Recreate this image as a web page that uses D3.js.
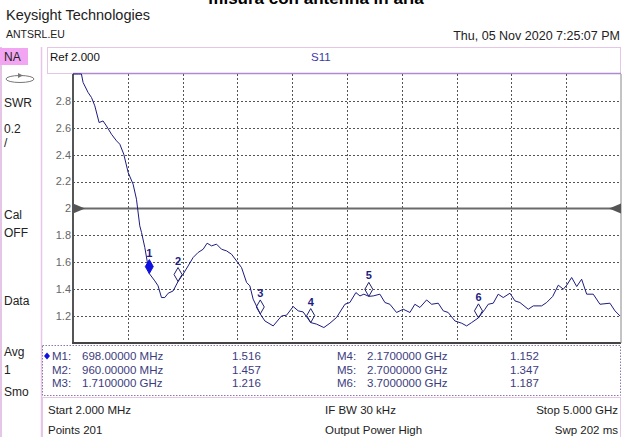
<!DOCTYPE html>
<html>
<head>
<meta charset="utf-8">
<script src="https://cdn.jsdelivr.net/npm/d3@7"></script>
<style>
  body { margin: 0; background: #fff; }
  svg { display: block; font-family: "Liberation Sans", Arial, sans-serif; }
</style>
</head>
<body>
<script>
const WIDTH = 622, HEIGHT = 437;

// trace (MHz, SWR)
const freqMHz = [2, 50, 79, 94, 140, 171, 201, 240, 276, 307, 353, 399, 429, 465, 505, 550, 581, 611, 627, 657,
  698, 748, 778, 809, 839, 870, 915, 960, 1006, 1052, 1098, 1143, 1189, 1225, 1266, 1311, 1357, 1402, 1448, 1494,
  1539, 1585, 1615, 1645, 1710, 1752, 1828, 1904, 1950, 2010, 2056, 2101, 2170, 2224, 2290, 2345, 2406, 2482, 2527,
  2582, 2619, 2655, 2700, 2740, 2801, 2847, 2892, 2953, 3014, 3075, 3120, 3166, 3227, 3273, 3333, 3379, 3424, 3485,
  3547, 3592, 3638, 3700, 3759, 3789, 3835, 3880, 3926, 3987, 4033, 4078, 4154, 4200, 4276, 4322, 4377, 4428, 4474,
  4505, 4550, 4596, 4641, 4687, 4747, 4808, 4899, 4945, 4991];
const swr = [3.3, 3.1, 3.0, 2.937, 2.862, 2.825, 2.763, 2.639, 2.651, 2.614, 2.552, 2.503, 2.478, 2.404, 2.268, 2.181, 2.069, 1.871, 1.822, 1.71,
  1.516, 1.462, 1.425, 1.338, 1.338, 1.37, 1.387, 1.457, 1.512, 1.573, 1.636, 1.673, 1.697, 1.742, 1.722, 1.735, 1.697, 1.685, 1.66, 1.61,
  1.561, 1.45, 1.425, 1.326, 1.216, 1.164, 1.127, 1.201, 1.207, 1.271, 1.239, 1.231, 1.152, 1.14, 1.115, 1.147, 1.19, 1.288, 1.301,
  1.375, 1.35, 1.363, 1.347, 1.35, 1.363, 1.301, 1.288, 1.227, 1.251, 1.227, 1.288, 1.264, 1.32, 1.288, 1.296, 1.239, 1.227, 1.164,
  1.147, 1.127, 1.152, 1.187, 1.251, 1.288, 1.296, 1.363, 1.338, 1.37, 1.313, 1.301, 1.251, 1.276, 1.276, 1.301, 1.346, 1.43, 1.4,
  1.43, 1.487, 1.42, 1.474, 1.363, 1.363, 1.288, 1.296, 1.239, 1.201];

const markerNames = ["1", "2", "3", "4", "5", "6"];
const markerFreqs = [698, 960, 1710, 2170, 2700, 3700];
const markerValues = [1.516, 1.457, 1.216, 1.152, 1.347, 1.187];
const markerFreqText = ["698.00000 MHz", "960.00000 MHz", "1.7100000 GHz", "2.1700000 GHz", "2.7000000 GHz", "3.7000000 GHz"];

const yTicks = [1.2, 1.4, 1.6, 1.8, 2.0, 2.2, 2.4, 2.6, 2.8];
const yTickText = ["1.2", "1.4", "1.6", "1.8", "2", "2.2", "2.4", "2.6", "2.8"];
const xDivisions = [1, 2, 3, 4, 5, 6, 7, 8, 9];
const refValue = 2.0;

const sideLabels = [["NA", 57], ["SWR", 103], ["0.2", 129], ["/", 143], ["Cal", 215], ["OFF", 233], ["Data", 301], ["Avg", 352], ["1", 370], ["Smo", 392]];

const PL = 73, PR = 621, PT = 74, PB = 343;

const svg = d3.select("body").append("svg").attr("width", WIDTH).attr("height", HEIGHT);

const x = d3.scaleLinear().domain([2, 5000]).range([PL, PR]);
const y = d3.scaleLinear().domain([1, 3]).range([PB, PT]).clamp(true);

// title (cut off at the top of the picture)
svg.append("text").attr("x", 316).attr("y", 4).attr("text-anchor", "middle")
  .style("font-weight", "bold").style("font-size", "17px").text("misura con antenna in aria");

svg.append("text").attr("x", 6).attr("y", 20).style("font-size", "14.5px").attr("fill", "#222").text("Keysight Technologies");
svg.append("text").attr("x", 6).attr("y", 38).style("font-size", "10.5px").attr("fill", "#222").text("ANTSRL.EU");
svg.append("text").attr("x", 620).attr("y", 40).attr("text-anchor", "end").style("font-size", "12.5px").attr("fill", "#222")
  .text("Thu, 05 Nov 2020 7:25:07 PM");

// left pink column
const pink = "#e6c6e6";
svg.append("line").attr("x1", 1).attr("x2", 1).attr("y1", 47).attr("y2", HEIGHT).attr("stroke", pink).attr("stroke-width", 2);
svg.append("line").attr("x1", 41.5).attr("x2", 41.5).attr("y1", 47).attr("y2", HEIGHT).attr("stroke", pink).attr("stroke-width", 1.5);
svg.append("rect").attr("x", 0).attr("y", 48).attr("width", 28).attr("height", 17).attr("fill", "#f2a6f2");

sideLabels.forEach(d => {
  svg.append("text").attr("x", 4).attr("y", d[1]).attr("dy", "0.35em").style("font-size", "12px").attr("fill", "#222").text(d[0]);
});
// little circular arrow icon
svg.append("ellipse").attr("cx", 20).attr("cy", 79).attr("rx", 14).attr("ry", 3.5).attr("fill", "none").attr("stroke", "#777");
svg.append("path").attr("d", "M18,73 L23,75.5 L18,78 Z").attr("fill", "#777");

// header box
svg.append("rect").attr("x", 47.5).attr("y", 47.5).attr("width", 573).attr("height", 26).attr("fill", "#fff").attr("stroke", pink);
svg.append("text").attr("x", 50).attr("y", 57).attr("dy", "0.35em").style("font-size", "11.5px").attr("fill", "#111").text("Ref 2.000");
svg.append("text").attr("x", 311).attr("y", 57).attr("dy", "0.35em").style("font-size", "11.5px").attr("fill", "#3a3aa8").text("S11");
svg.append("line").attr("x1", PL).attr("x2", PR).attr("y1", PT - 0.5).attr("y2", PT - 0.5).attr("stroke", "#b08ad0").attr("stroke-width", 1.5);

// grid
const grid = svg.append("g").attr("stroke", "#555").attr("stroke-dasharray", "2,2").attr("stroke-width", 1);
grid.selectAll("line.h").data(yTicks.filter(v => v !== refValue)).enter().append("line")
  .attr("x1", PL).attr("x2", PR).attr("y1", d => Math.round(y(d)) + 0.5).attr("y2", d => Math.round(y(d)) + 0.5);
grid.selectAll("line.v").data(xDivisions).enter().append("line")
  .attr("x1", d => Math.round(x(2 + d * 499.8)) + 0.5).attr("x2", d => Math.round(x(2 + d * 499.8)) + 0.5)
  .attr("y1", PT).attr("y2", PB);

svg.append("g").selectAll("text").data(yTicks).enter().append("text")
  .attr("x", 71).attr("y", d => y(d)).attr("dy", "0.35em").attr("text-anchor", "end")
  .style("font-size", "11px").attr("fill", "#666")
  .text((d, i) => yTickText[i]);

// frame
svg.append("line").attr("x1", PL).attr("x2", PL).attr("y1", PT).attr("y2", PB).attr("stroke", "#555").attr("stroke-width", 2);
svg.append("line").attr("x1", PL - 1).attr("x2", PR).attr("y1", PB).attr("y2", PB).attr("stroke", "#444").attr("stroke-width", 2);
svg.append("line").attr("x1", PR).attr("x2", PR).attr("y1", PT).attr("y2", PB).attr("stroke", "#888").attr("stroke-width", 1);

// reference line
const yr = y(refValue);
svg.append("line").attr("x1", PL).attr("x2", PR).attr("y1", yr).attr("y2", yr).attr("stroke", "#6a6a6a").attr("stroke-width", 2);
svg.append("path").attr("d", `M${PL},${yr - 5} L${PL + 12},${yr} L${PL},${yr + 5} Z`).attr("fill", "#555");
svg.append("path").attr("d", `M${PR},${yr - 5} L${PR - 12},${yr} L${PR},${yr + 5} Z`).attr("fill", "#555");

// trace
const trace = freqMHz.map((f, i) => [f, swr[i]]);
svg.append("path").datum(trace)
  .attr("d", d3.line().x(d => x(d[0])).y(d => y(d[1])))
  .attr("fill", "none").attr("stroke", "#1c1c82").attr("stroke-width", 1);

// markers
const mk = svg.append("g");
markerFreqs.forEach((f, i) => {
  const mx = x(f), my = y(markerValues[i]);
  mk.append("path").attr("d", `M${mx},${my} L${mx - 4},${my - 7} L${mx},${my - 14} L${mx + 4},${my - 7} Z`)
    .attr("fill", i === 0 ? "#1010e0" : "#fff").attr("fill-opacity", i === 0 ? 1 : 0)
    .attr("stroke", i === 0 ? "#1010e0" : "#202070").attr("stroke-width", 1);
  mk.append("text").attr("x", mx).attr("y", my - 17).attr("text-anchor", "middle")
    .style("font-size", "11px").style("font-weight", "bold").attr("fill", "#1c1c82").text(markerNames[i]);
});

// marker table
svg.append("rect").attr("x", 42.5).attr("y", 345.5).attr("width", 578).attr("height", 50)
  .attr("fill", "none").attr("stroke", "#8a7aaa").attr("stroke-dasharray", "1.5,1.5");
const tColor = "#3c3c80";
markerFreqs.forEach((f, i) => {
  const col = i < 3 ? 0 : 1, row = i % 3;
  const ty = 356 + row * 13.5;
  const bx = col === 0 ? 52 : 337;
  const t = svg.append("text").attr("y", ty).attr("dy", "0.35em").style("font-size", "11.5px").attr("fill", tColor);
  t.append("tspan").attr("x", bx).text("M" + markerNames[i] + ":");
  t.append("tspan").attr("x", bx + 30).text(markerFreqText[i]);
  svg.append("text").attr("x", col === 0 ? 232 : 510).attr("y", ty).attr("dy", "0.35em")
    .style("font-size", "11.5px").attr("fill", tColor).text(markerValues[i].toFixed(3));
});
svg.append("path").attr("d", "M47,352.5 L50,356 L47,359.5 L44,356 Z").attr("fill", "#1010e0");

// bottom info
svg.append("rect").attr("x", 42.5).attr("y", 397.5).attr("width", 578).attr("height", 41).attr("fill", "none").attr("stroke", pink);
const info = [["Start 2.000 MHz", 48, 410, "start"], ["IF BW 30 kHz", 325, 410, "start"], ["Stop 5.000 GHz", 618, 410, "end"],
  ["Points 201", 48, 430, "start"], ["Output Power High", 325, 430, "start"], ["Swp 202 ms", 618, 430, "end"]];
info.forEach(d => {
  svg.append("text").attr("x", d[1]).attr("y", d[2]).attr("dy", "0.35em").attr("text-anchor", d[3])
    .style("font-size", "11.5px").attr("fill", "#222").text(d[0]);
});
</script>
</body>
</html>
